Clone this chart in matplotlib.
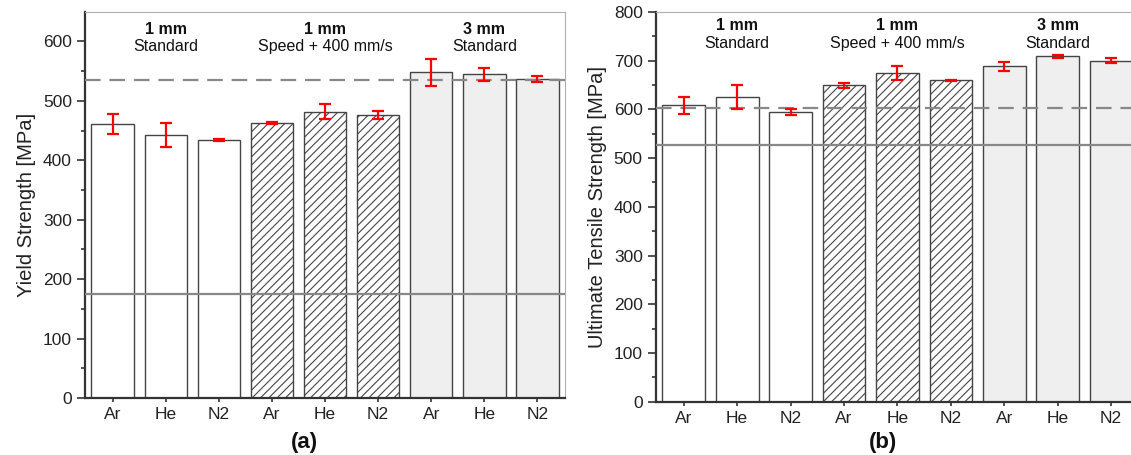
import matplotlib.pyplot as plt
import numpy as np

plt.rcParams['font.family'] = ['Liberation Sans', 'DejaVu Sans']
plt.rcParams['hatch.color'] = '#333333'
plt.rcParams['hatch.linewidth'] = 0.8

# values
gases = ['Ar', 'He', 'N2', 'Ar', 'He', 'N2', 'Ar', 'He', 'N2']
groups = [('1 mm', 'Standard'), ('1 mm', 'Speed + 400 mm/s'), ('3 mm', 'Standard')]

ys_mean = [461, 443, 434, 463, 482, 476, 548, 545, 537]
ys_err = [17, 20, 1, 2, 12, 7, 23, 11, 5]
ys_ref_dash = 535
ys_ref_solid = 175

uts_mean = [608, 625, 594, 649, 675, 660, 688, 709, 700]
uts_err = [18, 24, 6, 6, 14, 1, 10, 3, 6]
uts_ref_dash = 602
uts_ref_solid = 526

fills = ['white'] * 6 + ['#efefef'] * 3
hatches = [''] * 3 + ['////'] * 3 + [''] * 3

fig = plt.figure(figsize=(11.31, 4.55), dpi=100)
ax1 = fig.add_axes([0.0752, 0.1253, 0.4244, 0.849])
ax2 = fig.add_axes([0.580, 0.117, 0.427, 0.857])


def draw_panel(ax, mean, err, dash_y, solid_y, ymax, ylabel, text_y, letter, letter_pos):
    x = np.arange(len(mean))
    ax.bar(x, mean, width=0.8, color=fills, hatch=hatches,
           edgecolor='#444444', linewidth=1.0, zorder=2)
    ax.errorbar(x, mean, yerr=err, fmt='none', ecolor='red',
                elinewidth=1.6, capsize=4, capthick=1.6, zorder=4)
    ax.axhline(dash_y, color='#888888', lw=1.6, ls=(0, (7, 4)), zorder=3)
    ax.axhline(solid_y, color='#888888', lw=1.6, zorder=3)

    ax.set_xlim(-0.52, 8.52)
    ax.set_ylim(0, ymax)
    ax.set_xticks(x)
    ax.set_xticklabels(gases)
    ax.set_yticks(np.arange(0, ymax + 1, 100))
    ax.set_yticks(np.arange(50, ymax, 100), minor=True)
    ax.tick_params(axis='both', which='major', labelsize=12.5, colors='#333333',
                   labelcolor='#222222', width=1.2)
    ax.tick_params(axis='y', which='major', length=6)
    ax.tick_params(axis='y', which='minor', length=3, width=1.2, colors='#333333')
    ax.tick_params(axis='x', which='major', length=3)
    for s in ['left', 'bottom']:
        ax.spines[s].set_color('#333333')
        ax.spines[s].set_linewidth(1.6)
    for s in ['top', 'right']:
        ax.spines[s].set_color('#b0b0b0')
        ax.spines[s].set_linewidth(0.8)

    ax.set_ylabel(ylabel, fontsize=14.5, color='#222222', labelpad=5)

    for i, (t1, t2) in enumerate(groups):
        cx = 3 * i + 1
        ax.text(cx, text_y[0], t1, ha='center', va='center', fontsize=11.5,
                fontweight='bold', color='#111111')
        ax.text(cx, text_y[1], t2, ha='center', va='center', fontsize=11.5,
                color='#111111')

    ax.text(letter_pos[0], letter_pos[1], letter, transform=ax.transAxes,
            ha='center', va='center', fontsize=16, fontweight='bold', color='#111111')


draw_panel(ax1, ys_mean, ys_err, ys_ref_dash, ys_ref_solid, 650,
           'Yield Strength [MPa]', (620, 592), '(a)', (0.458, -0.115))
draw_panel(ax2, uts_mean, uts_err, uts_ref_dash, uts_ref_solid, 800,
           'Ultimate Tensile Strength [MPa]', (772, 736), '(b)', (0.47, -0.104))

fig.savefig('out.png', dpi=100)
